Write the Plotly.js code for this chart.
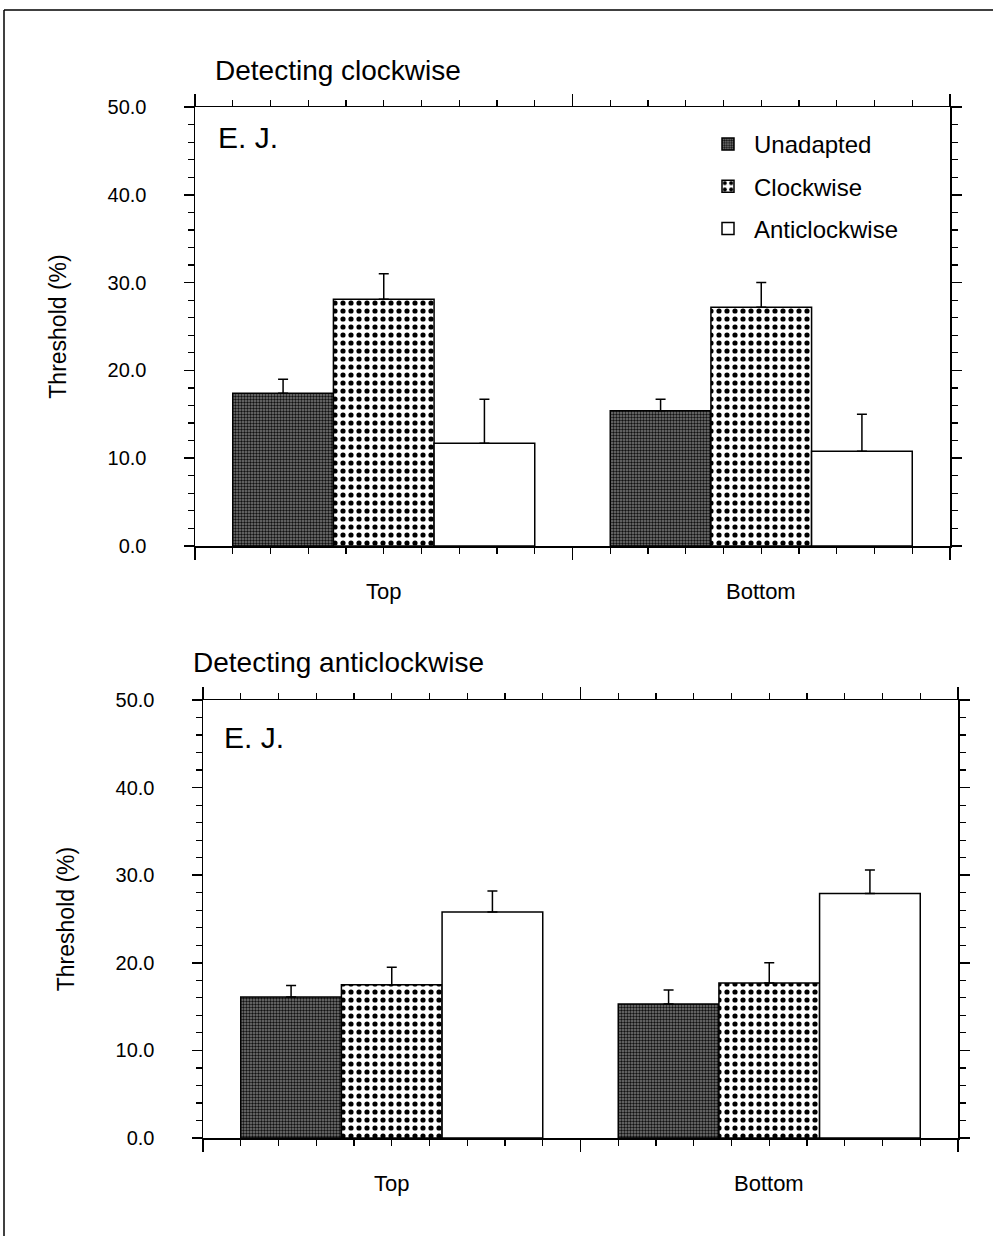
<!DOCTYPE html>
<html>
<head>
<meta charset="utf-8">
<script src="https://cdn.plot.ly/plotly-3.0.1.min.js"></script>
<style>html,body{margin:0;padding:0;background:#fff;}</style>
</head>
<body>
<div id="chart" style="width:993px;height:1236px;"></div>
<script>
// ---- data ----
const categories = ["Top", "Bottom"];
const seriesNames = ["Unadapted", "Clockwise", "Anticlockwise"];
const panelTitles = ["Detecting clockwise", "Detecting anticlockwise"];
const subjectLabel = "E. J.";
const yTitle = "Threshold (%)";

// Panel 1: detecting clockwise
const cwUnadapted = [17.4, 15.4];
const cwUnadaptedErr = [1.6, 1.3];
const cwClockwise = [28.1, 27.2];
const cwClockwiseErr = [2.9, 2.8];
const cwAnticlockwise = [11.7, 10.8];
const cwAnticlockwiseErr = [5.0, 4.2];

// Panel 2: detecting anticlockwise
const acUnadapted = [16.1, 15.3];
const acUnadaptedErr = [1.3, 1.6];
const acClockwise = [17.5, 17.7];
const acClockwiseErr = [2.0, 2.3];
const acAnticlockwise = [25.8, 27.9];
const acAnticlockwiseErr = [2.4, 2.7];

// ---- styles ----
const FONT = "Liberation Sans, Arial, Helvetica, sans-serif";
const styles = [
  {color: "#777777", pattern: {shape: ".", fgcolor: "#111", bgcolor: "#7a7a7a", size: 3, solidity: 0.5}},
  {color: "#ffffff", pattern: {shape: ".", fgcolor: "#000", bgcolor: "#fff", size: 8, solidity: 0.33}},
  {color: "#ffffff", pattern: {shape: ""}}
];

const xIdx = categories.map((c, i) => i);

function makeTraces(vals, errs, xa, ya, showLegend) {
  return vals.map((v, k) => ({
    type: "bar",
    name: seriesNames[k],
    legendgroup: seriesNames[k],
    showlegend: showLegend,
    x: xIdx,
    y: v,
    xaxis: xa,
    yaxis: ya,
    marker: {
      color: styles[k].color,
      pattern: styles[k].pattern,
      line: {color: "#000", width: 1.5}
    },
    error_y: {
      type: "data", symmetric: false,
      array: errs[k], arrayminus: errs[k].map(() => 0),
      color: "#000", thickness: 1.5, width: 5
    },
    hoverinfo: "skip"
  }));
}

const traces = [
  ...makeTraces([cwUnadapted, cwClockwise, cwAnticlockwise],
                [cwUnadaptedErr, cwClockwiseErr, cwAnticlockwiseErr], "x", "y", true),
  ...makeTraces([acUnadapted, acClockwise, acAnticlockwise],
                [acUnadaptedErr, acClockwiseErr, acAnticlockwiseErr], "x2", "y2", false)
];

function xAxis(domain, anchor) {
  return {
    domain: domain, anchor: anchor, type: "linear",
    range: [-0.5, 1.5],
    tickvals: [-0.5, 0.5, 1.5],
    showticklabels: false,
    ticks: "outside", ticklen: 12, tickwidth: 1.5, tickcolor: "#000",
    minor: {tick0: -0.5, dtick: 0.1, ticks: "outside", ticklen: 6, tickwidth: 1.2, tickcolor: "#000", showgrid: false},
    showline: true, linecolor: "#000", linewidth: 1.5, mirror: "ticks",
    showgrid: false, zeroline: false, fixedrange: true
  };
}
function yAxis(domain, anchor) {
  return {
    domain: domain, anchor: anchor,
    range: [0, 50], dtick: 10, tick0: 0, tickformat: ".1f",
    ticks: "outside", ticklen: 10, tickwidth: 1.5, tickcolor: "#000",
    ticklabelstandoff: 33,
    minor: {dtick: 2, ticks: "outside", ticklen: 6, tickwidth: 1.2, tickcolor: "#000", showgrid: false},
    showline: true, linecolor: "#000", linewidth: 1.5, mirror: "ticks",
    showgrid: false, zeroline: false, fixedrange: true,
    tickfont: {family: FONT, size: 20, color: "#000"},
    title: {text: yTitle, font: {family: FONT, size: 23, color: "#000"}, standoff: 34}
  };
}

const W = 993, H = 1236;
const annotations = [];
// panel titles
annotations.push({xref: "paper", yref: "paper", x: 213 / W, y: 1 - 70 / H, xanchor: "left", yanchor: "middle",
  text: panelTitles[0], showarrow: false, font: {family: FONT, size: 28, color: "#000"}});
annotations.push({xref: "paper", yref: "paper", x: 191 / W, y: 1 - 662 / H, xanchor: "left", yanchor: "middle",
  text: panelTitles[1], showarrow: false, font: {family: FONT, size: 28, color: "#000"}});
// subject labels
annotations.push({xref: "x domain", yref: "y domain", x: 0.028, y: 0.93, xanchor: "left", yanchor: "middle",
  text: subjectLabel, showarrow: false, font: {family: FONT, size: 30, color: "#000"}});
annotations.push({xref: "x2 domain", yref: "y2 domain", x: 0.025, y: 0.915, xanchor: "left", yanchor: "middle",
  text: subjectLabel, showarrow: false, font: {family: FONT, size: 30, color: "#000"}});
// category labels
categories.forEach((c, i) => {
  annotations.push({xref: "x", yref: "y domain", x: i, y: -0.103, xanchor: "center", yanchor: "middle",
    text: c, showarrow: false, font: {family: FONT, size: 22, color: "#000"}});
  annotations.push({xref: "x2", yref: "y2 domain", x: i, y: -0.103, xanchor: "center", yanchor: "middle",
    text: c, showarrow: false, font: {family: FONT, size: 22, color: "#000"}});
});

const layout = {
  width: W, height: H,
  margin: {l: 0, r: 0, t: 0, b: 0},
  paper_bgcolor: "#fff", plot_bgcolor: "#fff",
  font: {family: FONT, color: "#000"},
  barmode: "group", bargap: 0.2, bargroupgap: 0,
  xaxis: xAxis([195 / W, 950 / W], "y"),
  yaxis: yAxis([1 - 546 / H, 1 - 107 / H], "x"),
  xaxis2: xAxis([203 / W, 958 / W], "y2"),
  yaxis2: yAxis([1 - 1138 / H, 1 - 700 / H], "x2"),
  showlegend: true,
  legend: {
    x: 702 / W, y: 1 - 122 / H, xanchor: "left", yanchor: "top",
    bgcolor: "rgba(0,0,0,0)", borderwidth: 0,
    traceorder: "grouped", tracegroupgap: 8, itemwidth: 42,
    font: {family: FONT, size: 24, color: "#000"}
  },
  annotations: annotations,
  shapes: [
    {type: "line", xref: "paper", yref: "paper", x0: 4 / W, x1: 1, y0: 1 - 10 / H, y1: 1 - 10 / H, line: {color: "#000", width: 1.5}},
    {type: "line", xref: "paper", yref: "paper", x0: 4 / W, x1: 4 / W, y0: 0, y1: 1 - 10 / H, line: {color: "#000", width: 1.5}}
  ]
};

Plotly.newPlot("chart", traces, layout, {displayModeBar: false, staticPlot: true});
</script>
</body>
</html>
